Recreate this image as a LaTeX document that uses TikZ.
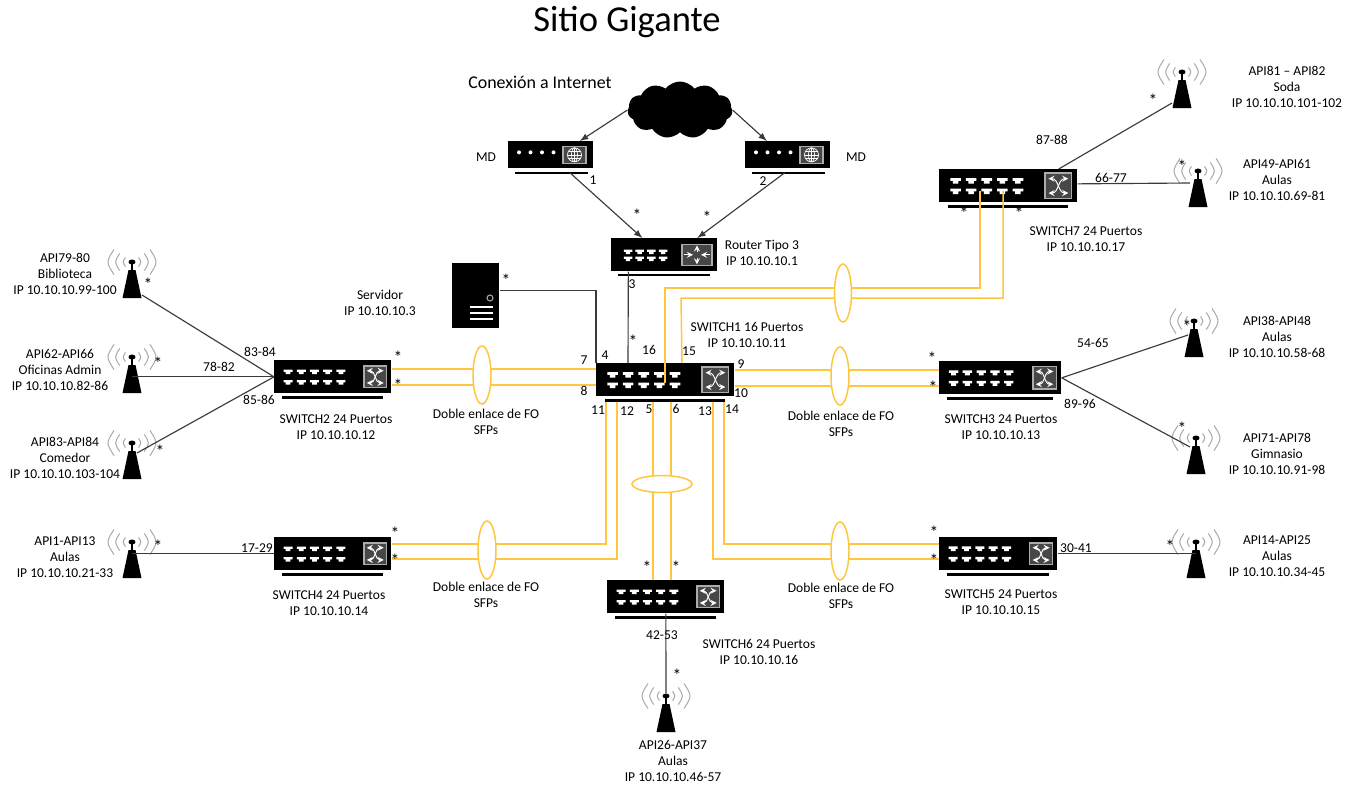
\documentclass[tikz,border=0pt]{standalone}
\usepackage{fontspec}
\setmainfont{Carlito}
\usepackage{tikz}
\usetikzlibrary{calc,shapes.symbols,shapes.geometric}

\definecolor{fibra}{HTML}{FFC640}
\definecolor{linea}{HTML}{3A3A3A}

\tikzset{
  devbox/.style={fill=black,inner sep=0pt,anchor=north west},
  lbl/.style={font=\fontsize{7.7}{9.1}\selectfont,align=center,inner sep=0pt},
  ast/.style={font=\fontsize{10}{10}\selectfont,inner sep=0pt,text height=3pt,text depth=1pt},
  cobre/.style={draw=linea,line width=0.65pt},
  fo/.style={draw=fibra,line width=0.85pt},
  enlace/.style={draw=fibra,fill=white,line width=0.85pt,ellipse,inner sep=0pt},
  ethport/.pic={\fill[white] (-5,-2.6) -- (5,-2.6) -- (5,0) -- (2.6,0) -- (2.6,2.6) -- (-2.6,2.6) -- (-2.6,0) -- (-5,0) -- cycle;},
  swicon/.pic={
    \draw[gray!65,fill=black!72,line width=0.8pt] (-12,-11.5) rectangle (12,11.5);
    \draw[white,line width=0.55pt,<->,>=stealth] (-9,-6.5) .. controls (0,-6.5) and (0,6.5) .. (9,6.5);
    \draw[white,line width=0.55pt,<->,>=stealth] (-9,6.5) .. controls (0,6.5) and (0,-6.5) .. (9,-6.5);
  },
  rticon/.pic={
    \draw[gray!65,fill=black!72,line width=0.8pt] (-15,-10.5) rectangle (15,10.5);
    \draw[white,line width=0.55pt,->,>=stealth] (-13,0) -- (-4,0);
    \draw[white,line width=0.55pt,->,>=stealth] (13,0) -- (4,0);
    \draw[white,line width=0.55pt,->,>=stealth] (0,-3) -- (0,-9.5);
    \draw[white,line width=0.55pt,->,>=stealth] (0,3) -- (0,9.5);
  },
  mdicon/.pic={
    \draw[gray!65,fill=black!72,line width=0.8pt] (-11.5,-8.5) rectangle (11.5,8.5);
    \draw[white,line width=0.4pt] (0,0) circle [radius=0.14cm];
    \draw[white,line width=0.4pt] (0,0) ellipse [x radius=0.06cm,y radius=0.14cm];
    \draw[white,line width=0.4pt] (-7,0) -- (7,0) (0,-7) -- (0,7) (-6,-3.5) -- (6,-3.5) (-6,3.5) -- (6,3.5);
  }
}

% switch: name, left, top, width
\newcommand{\swdev}[4]{
  \node[devbox,minimum width=#4*0.02cm,minimum height=0.66cm] (#1) at (#2,#3) {};
  \begin{scope}[shift={(#1.west)}]
    \foreach \i in {0,...,4} {
      \pic[scale=#4/130] at (0.12*#4+0.113*#4*\i,-5) {ethport};
      \pic[scale=#4/130] at (0.12*#4+0.113*#4*\i,5.5) {ethport};
    }
    \pic[scale=#4/125] at (0.865*#4,0) {swicon};
    \fill (0.065*#4,19) rectangle (0.935*#4,22);
  \end{scope}
}

% antena: name, centre x, base y
\newcommand{\apdev}[3]{
  \node[anchor=south,inner sep=0pt,minimum width=0.4cm,minimum height=0.76cm] (#1) at (#2,#3) {};
  \begin{scope}[shift={(#1.south)}]
    \fill (-9.5,0) -- (9.5,0) -- (3.5,-28) -- (-3.5,-28) -- cycle;
    \fill (-1,-28) rectangle (1,-36);
    \fill (0,-36) ellipse [x radius=0.07cm,y radius=0.05cm];
    \foreach \r in {8,15,22} {
      \draw[gray!65,line width=0.6pt] (0.82*\r,-36-0.57*\r) .. controls (1.18*\r,-36) .. (0.82*\r,-36+0.57*\r);
      \draw[gray!65,line width=0.6pt] (-0.82*\r,-36-0.57*\r) .. controls (-1.18*\r,-36) .. (-0.82*\r,-36+0.57*\r);
    }
  \end{scope}
}

% modem: name, left, top
\newcommand{\mddev}[3]{
  \node[devbox,minimum width=1.7cm,minimum height=0.54cm] (#1) at (#2,#3) {};
  \begin{scope}[shift={(#1.west)}]
    \foreach \d in {11,22.5,34,45.5} \fill[white] (\d,-2.5) circle [radius=0.04cm];
    \pic at (66.5,0) {mdicon};
    \fill (7,17.5) rectangle (80,19);
  \end{scope}
}

\begin{document}
\begin{tikzpicture}[x=0.02cm,y=-0.02cm]
  \useasboundingbox (0,0) rectangle (1356,785);

  \node[font=\fontsize{20.8}{24}\selectfont,inner sep=0pt] (titulo) at (627,22) {Sitio Gigante};
  \node[font=\fontsize{10.2}{12}\selectfont,inner sep=0pt] (internet) at (540,82) {Conexión a Internet};

  % equipos
  \node[cloud,cloud puffs=11,cloud puff arc=105,aspect=1.9,fill=black,inner sep=0pt,minimum width=2.1cm,minimum height=1.14cm] (nube) at (680,110) {};
  \mddev{md1}{508}{141}
  \mddev{md2}{745}{141}

  \node[devbox,minimum width=2.12cm,minimum height=0.66cm] (rtr) at (611,238) {};
  \begin{scope}[shift={(rtr.west)}]
    \foreach \i in {0,...,3} {
      \pic[scale=0.85] at (17+11.7*\i,-3) {ethport};
      \pic[scale=0.85] at (17+11.7*\i,4) {ethport};
    }
    \pic at (86,0) {rticon};
    \fill (7,19) rectangle (99,21);
  \end{scope}

  \node[devbox,minimum width=0.94cm,minimum height=1.3cm] (srv) at (452,263) {};
  \draw[gray!70,line width=0.6pt] (490,298) circle [radius=0.06cm];
  \foreach \y in {307,313,319} \draw[white,line width=0.8pt] (470,\y) -- (493,\y);

  \swdev{sw1}{596}{363}{138}
  \swdev{sw2}{274}{360}{117}
  \swdev{sw3}{939}{361}{122}
  \swdev{sw4}{274}{537}{117}
  \swdev{sw5}{939}{537}{118}
  \swdev{sw6}{607}{580}{117}
  \swdev{sw7}{939}{169}{138}

  \apdev{api79}{132}{298}
  \apdev{api62}{132}{393}
  \apdev{api83}{132}{479}
  \apdev{api1}{132}{578}
  \apdev{api81}{1182}{108}
  \apdev{api49}{1198}{207}
  \apdev{api38}{1194}{357}
  \apdev{api71}{1196}{474}
  \apdev{api14}{1196}{578}
  \apdev{api26}{666}{732}

  % cobre
  \draw[cobre,-latex] (nube.west) -- ($(md1.north)+(29,0)$);
  \draw[cobre,-latex] (nube.east) -- ($(md2.north)+(-21,0)$);
  \draw[cobre,-latex] ($(md1.south)+(19,4)$) -- ($(rtr.north)+(-22,0)$);
  \draw[cobre,-latex] ($(md2.south)+(-3,4)$) -- ($(rtr.north)+(33,0)$);
  \draw[cobre] ($(srv.east)+(0,-5)$) -| (sw1.north west);
  \draw[cobre] ($(rtr.south)+(-36,0)$) -- ($(sw1.north west)+(32,0)$);
  \draw[cobre] (sw2.west) -- ($(api79.south)+(10,-3)$);
  \draw[cobre] (sw2.west) -- (api62.center |- sw2.west);
  \draw[cobre] (sw2.west) -- ($(api83.south)+(5,-26)$);
  \draw[cobre] (sw4.west) -- (api1.center |- sw4.west);
  \draw[cobre] ($(sw7.north east)+(-19,0)$) -- ($(api81.south)+(-10,-5)$);
  \draw[cobre] ($(sw7.east)+(0,-2)$) -- ($(api49.south)+(-8,-24)$);
  \draw[cobre] (sw3.east) -- ($(api38.south)+(-6,-22)$);
  \draw[cobre] (sw3.east) -- ($(api71.south)+(-6,-27)$);
  \draw[cobre] (sw5.east) -- (api14.center |- sw5.east);
  \draw[cobre] (sw6.south) -- (api26.north);

  % fibra
  \foreach \d in {-8,8} {
    \draw[fo] ($(sw2.east)+(0,\d)$) coordinate (tmp) -- (tmp -| sw1.west);
    \draw[fo] ($(sw3.west)+(0,\d)$) coordinate (tmp) -- (tmp -| sw1.east);
  }
  \draw[fo] ($(sw4.east)+(0,-10)$) -| ($(sw1.south west)+(10,5)$);
  \draw[fo] ($(sw4.east)+(0,5)$) -| ($(sw1.south west)+(21,5)$);
  \draw[fo] ($(sw5.west)+(0,5)$) -| ($(sw1.south west)+(117,5)$);
  \draw[fo] ($(sw5.west)+(0,-10)$) -| ($(sw1.south west)+(128,5)$);
  \draw[fo] ($(sw1.south west)+(57,5)$) -- ($(sw6.north west)+(46,0)$);
  \draw[fo] ($(sw1.south west)+(75,5)$) -- ($(sw6.north west)+(64,0)$);
  \draw[fo] ($(sw7.west)+(41,5)$) -- (980,288) -- (665,288) -- ($(sw1.west)+(69,3)$);
  \draw[fo] ($(sw7.west)+(64,5)$) -- (1003,298) -- (681,298) -- ($(sw1.north west)+(86,0)$);

  \node[enlace,minimum width=0.36cm,minimum height=1.16cm] (enl2) at (482,375) {};
  \node[enlace,minimum width=0.36cm,minimum height=1.16cm] (enl3) at (840,376) {};
  \node[enlace,minimum width=0.36cm,minimum height=1.16cm] (enl4) at (487,550) {};
  \node[enlace,minimum width=0.36cm,minimum height=1.16cm] (enl5) at (840,551) {};
  \node[enlace,minimum width=0.34cm,minimum height=1.16cm] (enl7) at (843,293) {};
  \node[enlace,minimum width=1.2cm,minimum height=0.34cm] (enl6) at (662,484) {};

  % rotulos
  \foreach \nm/\x/\y/\t in {
    lsw1/747/335/{SWITCH1 16 Puertos\\IP 10.10.10.11},
    lsw2/336/427/{SWITCH2 24 Puertos\\IP 10.10.10.12},
    lsw3/1001/427/{SWITCH3 24 Puertos\\IP 10.10.10.13},
    lsw4/329/603/{SWITCH4 24 Puertos\\IP 10.10.10.14},
    lsw5/1001/602/{SWITCH5 24 Puertos\\IP 10.10.10.15},
    lsw6/759/652/{SWITCH6 24 Puertos\\IP 10.10.10.16},
    lsw7/1086/239/{SWITCH7 24 Puertos\\IP 10.10.10.17},
    lrtr/762/253/{Router Tipo 3\\IP 10.10.10.1},
    lsrv/380/303/{Servidor\\IP 10.10.10.3},
    ldbl2/486/422/{Doble enlace de FO\\SFPs},
    ldbl3/841/424/{Doble enlace de FO\\SFPs},
    ldbl4/486/595/{Doble enlace de FO\\SFPs},
    ldbl5/841/596/{Doble enlace de FO\\SFPs},
    lapi79/65/274/{API79-80\\Biblioteca\\IP 10.10.10.99-100},
    lapi62/60/370/{API62-API66\\Oficinas Admin\\IP 10.10.10.82-86},
    lapi83/65/458/{API83-API84\\Comedor\\IP 10.10.10.103-104},
    lapi1/65/557/{API1-API13\\Aulas\\IP 10.10.10.21-33},
    lapi81/1287/87/{API81 – API82\\Soda\\IP 10.10.10.101-102},
    lapi49/1277/180/{API49-API61\\Aulas\\IP 10.10.10.69-81},
    lapi38/1277/337/{API38-API48\\Aulas\\IP 10.10.10.58-68},
    lapi71/1277/454/{API71-API78\\Gimnasio\\IP 10.10.10.91-98},
    lapi14/1277/556/{API14-API25\\Aulas\\IP 10.10.10.34-45},
    lapi26/673/761/{API26-API37\\Aulas\\IP 10.10.10.46-57},
    lmd1/486/157/{MD},
    lmd2/856/157/{MD}}
    \node[lbl] (\nm) at (\x,\y) {\t};

  % puertos
  \foreach \x/\y/\t in {593/180/1,763/181/2,632/284/3,605/355/4,649/409/5,676/409/6,584/360/7,584/391/8,
    741/364/9,741/393/10,598/410/11,627/411/12,705/411/13,732/409/14,689/351/15,649/350/16,
    260/352/83-84,219/367/78-82,259/400/85-86,257/548/17-29,1052/140/87-88,1111/178/66-77,
    1093/343/54-65,1080/404/89-96,1076/548/30-41,662/635/42-53}
    \node[lbl] (p\t) at (\x,\y) {\t};

  \foreach \x/\y [count=\i] in {637/220,707/222,506/285,633/346,148/289,158/368,160/456,158/551,
    398/362,398/390,395/538,395/565,932/363,933/392,934/537,934/565,647/572,676/572,
    964/218,1019/218,1153/105,1182/171,1187/331,1182/433,1170/551,677/680}
    \node[ast] (ast\i) at (\x,\y) {*};
\end{tikzpicture}
\end{document}
